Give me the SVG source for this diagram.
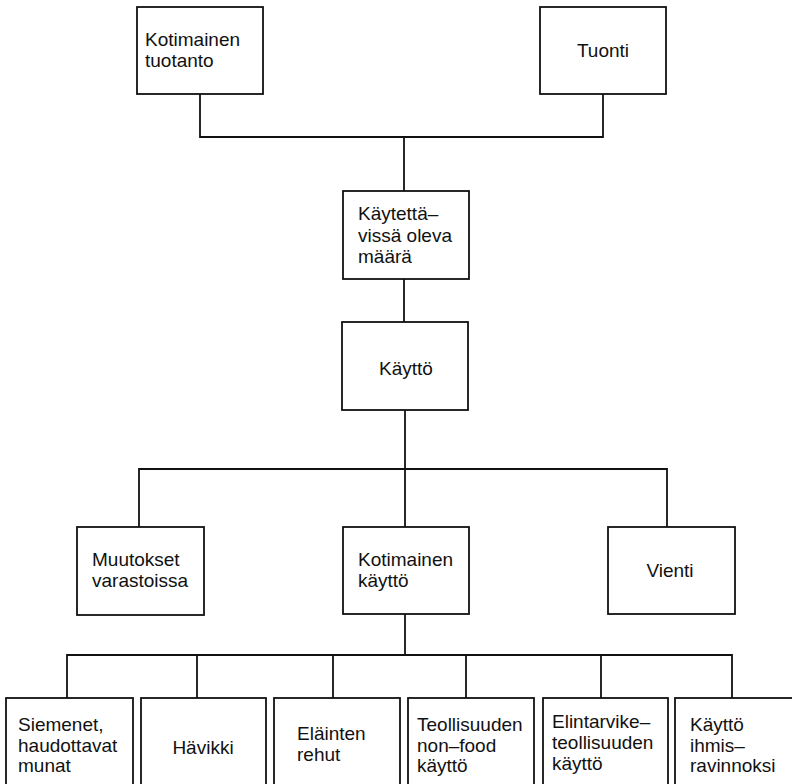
<svg xmlns="http://www.w3.org/2000/svg" width="792" height="784" viewBox="0 0 792 784">
<style>
.box{fill:#fff;stroke:#111;stroke-width:1.8}
.ln{fill:none;stroke:#111;stroke-width:1.8}
text{font-family:"Liberation Sans",Arial,sans-serif;font-size:19px;fill:#111}
.c{text-anchor:middle}
</style>
<rect x="0" y="0" width="792" height="784" fill="#fff"/>
<g id="connectors">
<path class="ln" d="M200,94 V137 H603 V94"/>
<path class="ln" d="M404,137 V191"/>
<path class="ln" d="M404,279 V322"/>
<path class="ln" d="M405,410 V527"/>
<path class="ln" d="M139,527 V469 H667 V527"/>
<path class="ln" d="M405,614 V655"/>
<path class="ln" d="M67,698 V655 H732 V698"/>
<path class="ln" d="M197,655 V698 M333,655 V698 M466,655 V698 M601,655 V698"/>
</g>
<g id="kotimainen-tuotanto"><rect class="box" x="137" y="7" width="126" height="87"/><text x="145" y="46">Kotimainen</text><text x="145" y="67">tuotanto</text></g>
<g id="tuonti"><rect class="box" x="540" y="7" width="126" height="87"/><text class="c" x="603" y="57">Tuonti</text></g>
<g id="kaytettavissa"><rect class="box" x="343" y="191" width="126" height="88"/><text x="358" y="220">Käytettä–</text><text x="358" y="241.5">vissä oleva</text><text x="358" y="263">määrä</text></g>
<g id="kaytto"><rect class="box" x="342" y="322" width="126" height="88"/><text class="c" x="406" y="375">Käyttö</text></g>
<g id="muutokset"><rect class="box" x="77" y="527" width="127" height="88"/><text x="92" y="566">Muutokset</text><text x="92" y="587">varastoissa</text></g>
<g id="kotimainen-kaytto"><rect class="box" x="343" y="527" width="126" height="87"/><text x="358" y="566">Kotimainen</text><text x="358" y="587">käyttö</text></g>
<g id="vienti"><rect class="box" x="608" y="527" width="127" height="87"/><text class="c" x="670" y="577">Vienti</text></g>
<g id="siemenet"><rect class="box" x="6" y="698" width="127" height="100"/><text x="18" y="731">Siemenet,</text><text x="18" y="751.5">haudottavat</text><text x="18" y="772">munat</text></g>
<g id="havikki"><rect class="box" x="141" y="698" width="125" height="100"/><text class="c" x="203" y="754">Hävikki</text></g>
<g id="elainten-rehut"><rect class="box" x="274" y="698" width="126" height="100"/><text x="297" y="740">Eläinten</text><text x="297" y="760.5">rehut</text></g>
<g id="teollisuuden"><rect class="box" x="408" y="698" width="126" height="100"/><text x="417" y="731">Teollisuuden</text><text x="417" y="751.5">non–food</text><text x="417" y="772">käyttö</text></g>
<g id="elintarvike"><rect class="box" x="543" y="698" width="125" height="100"/><text x="552" y="727.5">Elintarvike–</text><text x="552" y="748.5">teollisuuden</text><text x="552" y="769.5">käyttö</text></g>
<g id="ihmisravinnoksi"><rect class="box" x="675" y="698" width="130" height="100"/><text x="690" y="731">Käyttö</text><text x="690" y="751.5">ihmis–</text><text x="690" y="772">ravinnoksi</text></g>
</svg>
